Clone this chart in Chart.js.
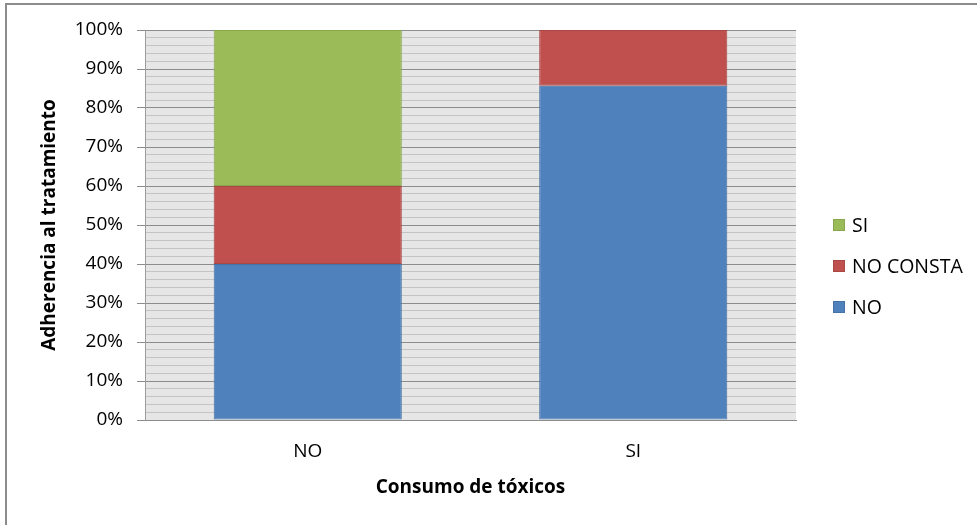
<!DOCTYPE html>
<html>
<head>
<meta charset="utf-8">
<script src="https://cdn.jsdelivr.net/npm/chart.js@4/dist/chart.umd.min.js"></script>
<style>
  html, body { margin: 0; padding: 0; background: #ffffff; }
  #wrap { position: relative; width: 977px; height: 525px; overflow: hidden; }
  #frame { position: absolute; left: 5px; top: 3px; width: 1200px; height: 800px;
           border-left: 2px solid #8c8c8c; border-top: 2px solid #8c8c8c; }
  canvas { position: absolute; left: 0; top: 0; }
</style>
</head>
<body>
<div id="wrap">
  <div id="frame"></div>
  <canvas id="chart" width="977" height="525"></canvas>
</div>
<script>
// Consumo de tóxicos vs. adherencia al tratamiento (porcentaje por grupo)
const categories = ['NO', 'SI'];
const seriesNames = ['NO', 'NO CONSTA', 'SI'];
const adherenciaNo = [40, 85.7];
const adherenciaNoConsta = [20, 14.3];
const adherenciaSi = [40, 0];
const majorTicks = [0, 10, 20, 30, 40, 50, 60, 70, 80, 90, 100];

const fillColors = ['#4f81bd', '#c0504d', '#9bbb59'];
const edgeColors = ['#4672a8', '#a94744', '#89a64f'];
const seriesValues = [adherenciaNo, adherenciaNoConsta, adherenciaSi];

const FONT = "'Open Sans', 'Liberation Sans', sans-serif";

// Light gray plot background behind the bars
const plotBackground = {
  id: 'plotBackground',
  beforeDraw(chart) {
    const { ctx, chartArea: a } = chart;
    ctx.save();
    ctx.fillStyle = '#e6e6e6';
    ctx.fillRect(a.left, a.top, a.right - a.left, a.bottom - a.top);
    ctx.restore();
  }
};

// Legend at the right, series listed top to bottom in reverse order
const sideLegend = {
  id: 'sideLegend',
  afterDraw(chart) {
    const { ctx } = chart;
    const x = 833, top = 225, step = 41, box = 12;
    ctx.save();
    ctx.font = '19.5px ' + FONT;
    ctx.textBaseline = 'middle';
    ctx.textAlign = 'left';
    const sets = chart.data.datasets.slice().reverse();
    sets.forEach((ds, i) => {
      const cy = top + i * step;
      ctx.fillStyle = ds.backgroundColor;
      ctx.fillRect(x, cy - box / 2, box, box);
      ctx.strokeStyle = ds.borderColor;
      ctx.lineWidth = 1;
      ctx.strokeRect(x + 0.5, cy - box / 2 + 0.5, box - 1, box - 1);
      ctx.fillStyle = '#000000';
      ctx.fillText(ds.label, x + 19, cy + 1);
    });
    ctx.restore();
  }
};

new Chart(document.getElementById('chart'), {
  type: 'bar',
  data: {
    labels: categories,
    datasets: seriesNames.map((name, i) => ({
      label: name,
      data: seriesValues[i],
      backgroundColor: fillColors[i],
      borderColor: edgeColors[i],
      borderWidth: 1,
      borderSkipped: false,
      barPercentage: 1,
      categoryPercentage: 0.578
    }))
  },
  options: {
    responsive: false,
    animation: false,
    devicePixelRatio: 1,
    layout: { padding: { left: 0, right: 181, top: 30, bottom: 0 } },
    plugins: {
      legend: { display: false },
      tooltip: { enabled: false }
    },
    scales: {
      x: {
        stacked: true,
        grid: { display: false },
        border: { display: true, color: '#8c8c8c', width: 1 },
        ticks: { color: '#000000', font: { family: FONT, size: 19 }, padding: 12 },
        title: {
          display: true,
          text: 'Consumo de tóxicos',
          color: '#000000',
          font: { family: FONT, size: 19, weight: 'bold' },
          padding: { top: 0, bottom: 26 }
        },
        afterFit(scale) { scale.height = 105; }
      },
      y: {
        stacked: true,
        min: 0,
        max: 100,
        ticks: {
          stepSize: 2,
          autoSkip: false,
          color: '#000000',
          padding: 14,
          font: { family: FONT, size: 19 },
          callback: (v) => majorTicks.includes(v) ? v + '%' : ''
        },
        grid: {
          color: (c) => majorTicks.includes(c.tick.value) ? '#8c8c8c' : '#c4c4c4',
          tickColor: (c) => majorTicks.includes(c.tick.value) ? '#8c8c8c' : 'rgba(0,0,0,0)',
          tickLength: 8,
          lineWidth: 1
        },
        border: { display: true, color: '#9c9c9c', width: 1 },
        title: {
          display: true,
          text: 'Adherencia al tratamiento',
          color: '#000000',
          font: { family: FONT, size: 19, weight: 'bold' },
          padding: { top: 38, bottom: 0 }
        },
        afterFit(scale) { scale.width = 145; }
      }
    }
  },
  plugins: [plotBackground, sideLegend]
});
</script>
</body>
</html>
